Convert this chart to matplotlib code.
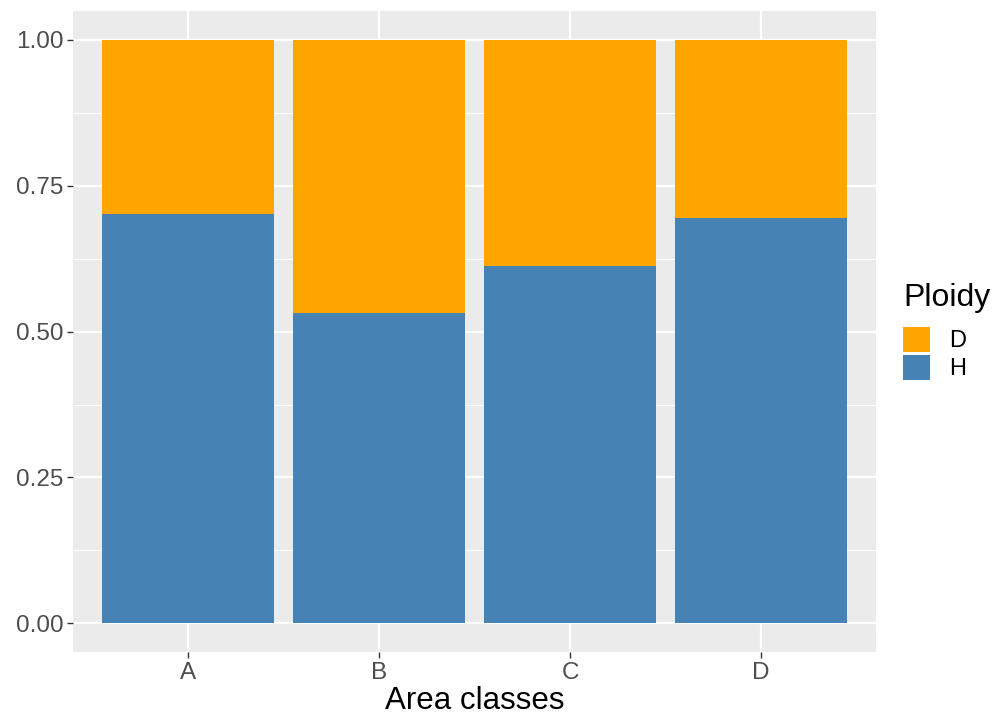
import numpy as np
import matplotlib
matplotlib.use("Agg")
import matplotlib.pyplot as plt
from matplotlib.patches import Patch

plt.rcParams['font.family'] = ['Liberation Sans', 'DejaVu Sans']

# data
classes = ['A', 'B', 'C', 'D']
h_share = [0.701, 0.532, 0.612, 0.695]
d_share = [1 - v for v in h_share]
ploidy = ['D', 'H']
colors = {'D': '#FFA500', 'H': '#4682B4'}

fig = plt.figure(figsize=(9.97, 7.17), dpi=100)
ax = fig.add_axes([0.0737, 0.09, 0.8045, 0.895])

x = np.arange(1, len(classes) + 1)
ax.bar(x, h_share, width=0.9, color=colors['H'], zorder=3)
ax.bar(x, d_share, width=0.9, bottom=h_share, color=colors['D'], zorder=3)

ax.set_xlim(0.4, 4.6)
ax.set_ylim(-0.05, 1.05)
ax.set_facecolor('#EBEBEB')
for s in ax.spines.values():
    s.set_visible(False)

yt = [0, 0.25, 0.5, 0.75, 1.0]
ax.set_yticks(yt)
ax.set_yticklabels(['0.00', '0.25', '0.50', '0.75', '1.00'])
ax.set_yticks([0.125, 0.375, 0.625, 0.875], minor=True)
ax.set_xticks(x)
ax.set_xticklabels(classes)
ax.tick_params(axis='both', which='major', length=4, width=1, color='#333333',
               labelsize=17.5, labelcolor='#4D4D4D', pad=3)
ax.tick_params(axis='y', which='minor', length=0)
ax.grid(which='major', color='white', linewidth=1.6, zorder=0)
ax.grid(which='minor', axis='y', color='white', linewidth=0.8, zorder=0)

ax.set_xlabel('Area classes', fontsize=22.5, color='black', labelpad=1)

# legend: title as text, keys via legend
fig.text(0.9057, 0.573, 'Ploidy', fontsize=23, color='black', va='baseline', ha='left')
handles = [Patch(facecolor=colors[p], edgecolor='none') for p in ploidy]
fig.legend(handles, ploidy, loc='upper left', bbox_to_anchor=(0.9057, 0.544),
           frameon=False, fontsize=17, handlelength=1.16, handleheight=1.25,
           handletextpad=0.8, labelspacing=0.1, borderpad=0, borderaxespad=0)

fig.savefig('out.png', dpi=100)
